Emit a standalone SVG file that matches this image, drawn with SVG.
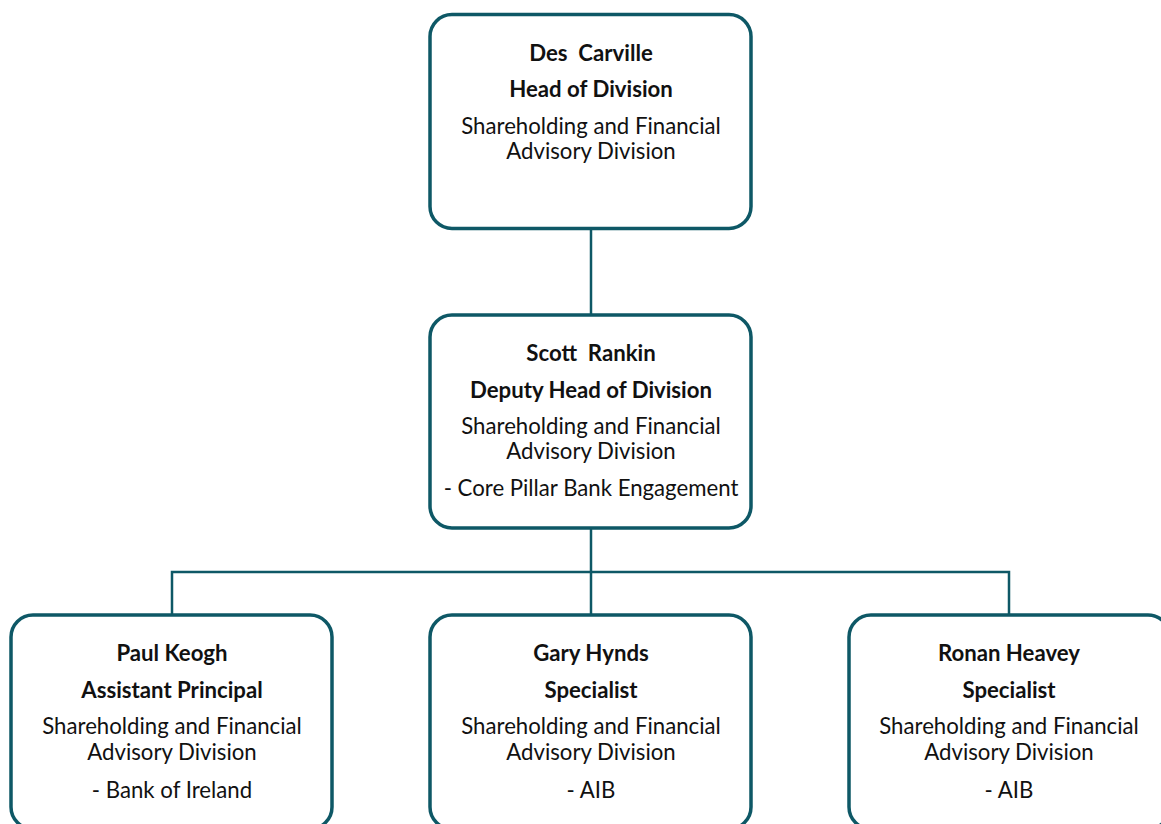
<svg xmlns="http://www.w3.org/2000/svg" width="1161" height="824" viewBox="0 0 1161 824">
  <style>
    .box { fill: #ffffff; stroke: #0e5866; stroke-width: 3.5; }
    .link { fill: none; stroke: #0e5866; stroke-width: 2.5; }
    text { font-family: "Lato", "Open Sans", "Liberation Sans", sans-serif; font-size: 22.2px; fill: #111111; text-anchor: middle; white-space: pre; }
    .b { font-weight: bold; }
  </style>
  <rect width="1161" height="824" fill="#ffffff"/>

  <g id="connectors">
    <line class="link" x1="591" y1="228" x2="591" y2="315"/>
    <line class="link" x1="591" y1="528" x2="591" y2="615"/>
    <polyline class="link" points="172,615 172,572 1009,572 1009,615"/>
  </g>

  <g id="node-des-carville">
    <rect class="box" x="430" y="14.5" width="321" height="214" rx="22"/>
    <text class="b" x="591" y="61" xml:space="preserve">Des  Carville</text>
    <text class="b" x="591" y="97">Head of Division</text>
    <text x="591" y="134">Shareholding and Financial</text>
    <text x="591" y="159">Advisory Division</text>
  </g>

  <g id="node-scott-rankin">
    <rect class="box" x="430" y="315" width="321" height="213" rx="22"/>
    <text class="b" x="591" y="361" xml:space="preserve">Scott  Rankin</text>
    <text class="b" x="591" y="398">Deputy Head of Division</text>
    <text x="591" y="434">Shareholding and Financial</text>
    <text x="591" y="459">Advisory Division</text>
    <text x="591" y="496">- Core Pillar Bank Engagement</text>
  </g>

  <g id="node-paul-keogh">
    <rect class="box" x="11" y="615" width="321" height="214" rx="22"/>
    <text class="b" x="172" y="661">Paul Keogh</text>
    <text class="b" x="172" y="698">Assistant Principal</text>
    <text x="172" y="734">Shareholding and Financial</text>
    <text x="172" y="760">Advisory Division</text>
    <text x="172" y="798">- Bank of Ireland</text>
  </g>

  <g id="node-gary-hynds">
    <rect class="box" x="430" y="615" width="321" height="214" rx="22"/>
    <text class="b" x="591" y="661">Gary Hynds</text>
    <text class="b" x="591" y="698">Specialist</text>
    <text x="591" y="734">Shareholding and Financial</text>
    <text x="591" y="760">Advisory Division</text>
    <text x="591" y="798">- AIB</text>
  </g>

  <g id="node-ronan-heavey">
    <rect class="box" x="849" y="615" width="321" height="214" rx="22"/>
    <text class="b" x="1009" y="661">Ronan Heavey</text>
    <text class="b" x="1009" y="698">Specialist</text>
    <text x="1009" y="734">Shareholding and Financial</text>
    <text x="1009" y="760">Advisory Division</text>
    <text x="1009" y="798">- AIB</text>
  </g>
</svg>
